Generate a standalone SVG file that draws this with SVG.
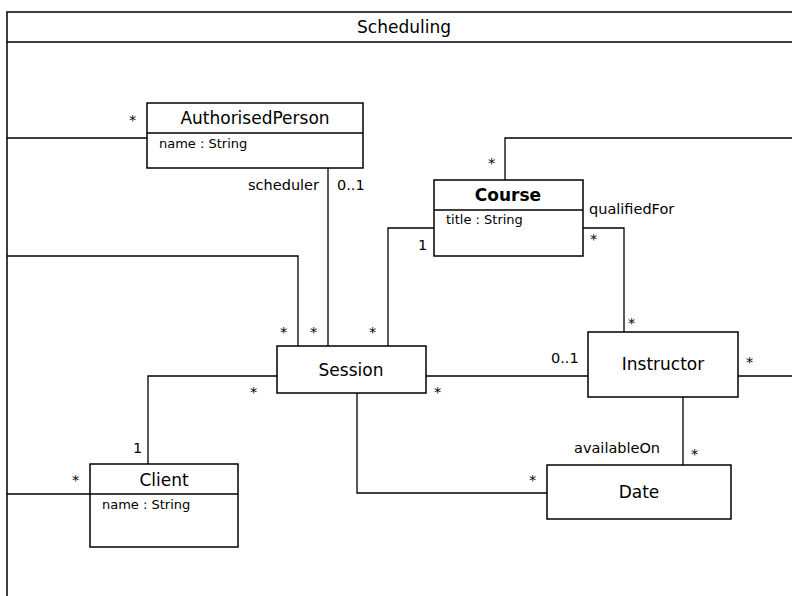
<svg xmlns="http://www.w3.org/2000/svg" width="792" height="596" viewBox="0 0 792 596">
<style>
text{font-family:"DejaVu Sans","Liberation Sans",sans-serif;fill:#000}
.box{fill:#fff;stroke:#000;stroke-width:1.5}
.ln{fill:none;stroke:#000;stroke-width:1.3}
.t{font-size:17px;text-anchor:middle}
.a{font-size:13px}
.m{font-size:14.5px}
</style>
<rect x="0" y="0" width="792" height="596" fill="#fff"/>
<g id="frame">
<path class="box" d="M792,12 H7 V600" fill="none"/>
<line x1="7" y1="42" x2="792" y2="42" stroke="#000" stroke-width="1.5"/>
<text class="t" x="404" y="33">Scheduling</text>
</g>
<g id="connectors">
<path class="ln" d="M7,138 H147"/>
<path class="ln" d="M328,168 V346"/>
<path class="ln" d="M7,256 H298 V346"/>
<path class="ln" d="M505,180 V138 H792"/>
<path class="ln" d="M434,228 H388 V346"/>
<path class="ln" d="M583,228 H624 V332"/>
<path class="ln" d="M277,376 H148 V464"/>
<path class="ln" d="M426,376 H588"/>
<path class="ln" d="M738,376 H792"/>
<path class="ln" d="M357,393 V493 H547"/>
<path class="ln" d="M683,397 V465"/>
<path class="ln" d="M7,494 H90"/>
</g>
<g id="labels" class="m">
<text x="129" y="125">*</text>
<text x="319" y="190" text-anchor="end">scheduler</text>
<text x="337" y="190">0..1</text>
<text x="488" y="168">*</text>
<text x="589" y="214">qualifiedFor</text>
<text x="418" y="250">1</text>
<text x="590" y="244">*</text>
<text x="280" y="337">*</text>
<text x="310" y="337">*</text>
<text x="369" y="337">*</text>
<text x="628" y="328">*</text>
<text x="250" y="397">*</text>
<text x="434" y="397">*</text>
<text x="551" y="363">0..1</text>
<text x="746" y="367">*</text>
<text x="574" y="453">availableOn</text>
<text x="691" y="459">*</text>
<text x="529" y="485">*</text>
<text x="133" y="453">1</text>
<text x="72" y="485">*</text>
</g>
<g id="AuthorisedPerson">
<rect class="box" x="147" y="103" width="216" height="65"/>
<line x1="147" y1="133" x2="363" y2="133" stroke="#000" stroke-width="1.5"/>
<text class="t" x="255" y="124">AuthorisedPerson</text>
<text class="a" x="159" y="148">name : String</text>
</g>
<g id="Course">
<rect class="box" x="434" y="180" width="149" height="76"/>
<line x1="434" y1="210" x2="583" y2="210" stroke="#000" stroke-width="1.5"/>
<text class="t" x="508" y="201" font-weight="bold">Course</text>
<text class="a" x="446" y="224">title : String</text>
</g>
<g id="Session">
<rect class="box" x="277" y="346" width="149" height="47"/>
<text class="t" x="351" y="376">Session</text>
</g>
<g id="Instructor">
<rect class="box" x="588" y="332" width="150" height="65"/>
<text class="t" x="663" y="370">Instructor</text>
</g>
<g id="Date">
<rect class="box" x="547" y="465" width="184" height="54"/>
<text class="t" x="639" y="498">Date</text>
</g>
<g id="Client">
<rect class="box" x="90" y="464" width="148" height="83"/>
<line x1="90" y1="494" x2="238" y2="494" stroke="#000" stroke-width="1.5"/>
<text class="t" x="164" y="486">Client</text>
<text class="a" x="102" y="509">name : String</text>
</g>
</svg>
